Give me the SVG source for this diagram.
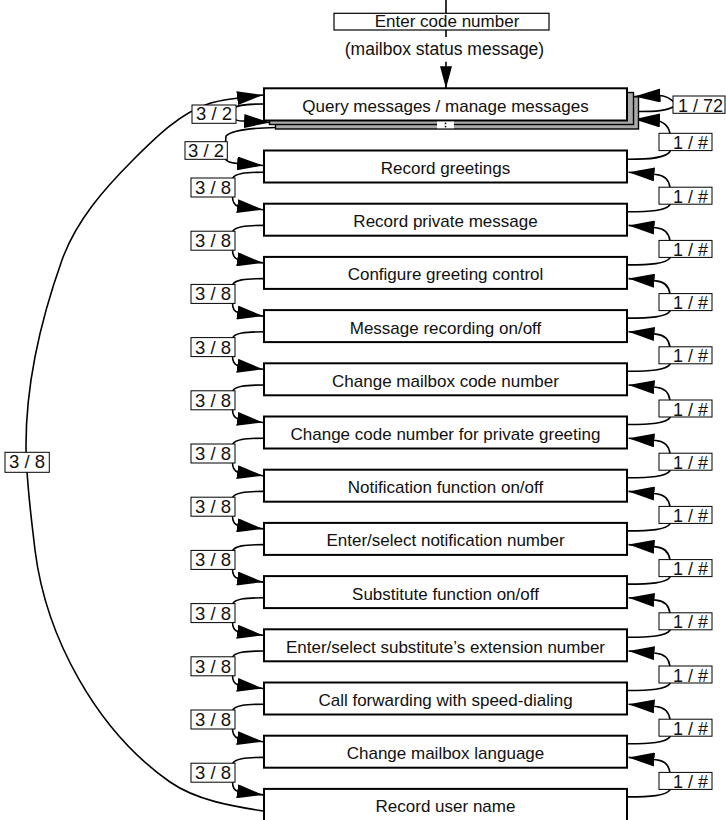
<svg xmlns="http://www.w3.org/2000/svg" width="726" height="820" viewBox="0 0 726 820">
<style>
.box{fill:#fff;stroke:#000;stroke-width:2}
.top{fill:#fff;stroke:#000;stroke-width:1.2}
.shadow{fill:#a9a9a9;stroke:#000;stroke-width:1.4}
.lbl{fill:#fff;stroke:#000;stroke-width:1}
.t{font-family:"Liberation Sans",Arial,Helvetica,sans-serif;font-size:17px;fill:#111;text-anchor:middle}
.tl{font-family:"Liberation Sans",Arial,Helvetica,sans-serif;font-size:18.5px;fill:#111;text-anchor:middle}
.tr{font-family:"Liberation Sans",Arial,Helvetica,sans-serif;font-size:18px;fill:#111;text-anchor:end}
.c{fill:none;stroke:#000;stroke-width:1.6}
.a{marker-end:url(#arr)}
</style>
<defs>
<marker id="arr" viewBox="0 0 26 14" refX="26" refY="7" markerWidth="26" markerHeight="14" markerUnits="userSpaceOnUse" orient="auto"><path d="M0,0 L26,7 L0,14 z" fill="#000"/></marker>
<marker id="arrS" viewBox="0 0 22 12" refX="22" refY="6" markerWidth="22" markerHeight="12" markerUnits="userSpaceOnUse" orient="auto"><path d="M0,0 L22,6 L0,12 z" fill="#000"/></marker>
</defs>

<g id="connectors">
<path class="c" d="M446,0 L446,13.3"/>
<path class="c" d="M446,30 L446,37"/>
<path class="c" d="M446,61.7 L446,88.3" marker-end="url(#arrS)"/>
<!-- big 3/8 arc -->
<path class="c a" d="M263,811 C231,806 196,800 170,782 C97,731 46,638 35,550 C31,515 26,480 26,445 C26,382 41,319 62,260 C76,221 104,189 133,160 C156,137 180,113 210,103.3 C219,100.5 229,99.5 238,98 L263,95"/>
<!-- 3/2 self loop -->
<path class="c a" d="M264,104 C248,104 238,104.5 234,108 L234,118 C235,120 238,121 243,121 L270,122.5"/>
<!-- 3/2 to greetings -->
<path class="c a" d="M275.5,127.5 C250,128 232,130 226,136 L225,150 L225,157 C225,161 229,163 238,163.5 L263,165.5"/>
<!-- 1/72 self loop -->
<path class="c a" d="M639,111.5 C655,111.5 667,111 675,106 L675,103 C670,98 666,95.5 659,95.5 L634.5,96.5"/>
<!-- 1/# greetings to query -->
<path class="c a" d="M628,159.3 C650,159.3 666,158 670,151.5 L670,134 C669,126 663,121 655,120.2 L634,119.3"/>
<!-- left 3/8 loops -->
<path class="c a" d="M264,172.2 C244,172.2 235,173.5 232.5,178.5 L232.5,196.5 C232.5,201 234,205 238,206.2 L263,209.7"/>
<path class="c a" d="M264,225.4 C244,225.4 235,226.7 232.5,231.7 L232.5,249.7 C232.5,254.2 234,258.2 238,259.4 L263,262.9"/>
<path class="c a" d="M264,278.6 C244,278.6 235,279.9 232.5,284.9 L232.5,302.9 C232.5,307.4 234,311.4 238,312.6 L263,316.1"/>
<path class="c a" d="M264,331.8 C244,331.8 235,333.1 232.5,338.1 L232.5,356.1 C232.5,360.6 234,364.6 238,365.8 L263,369.3"/>
<path class="c a" d="M264,385 C244,385 235,386.3 232.5,391.3 L232.5,409.3 C232.5,413.8 234,417.8 238,419 L263,422.5"/>
<path class="c a" d="M264,438.2 C244,438.2 235,439.5 232.5,444.5 L232.5,462.5 C232.5,467 234,471 238,472.2 L263,475.7"/>
<path class="c a" d="M264,491.4 C244,491.4 235,492.7 232.5,497.7 L232.5,515.7 C232.5,520.2 234,524.2 238,525.4 L263,528.9"/>
<path class="c a" d="M264,544.6 C244,544.6 235,545.9 232.5,550.9 L232.5,568.9 C232.5,573.4 234,577.4 238,578.6 L263,582.1"/>
<path class="c a" d="M264,597.8 C244,597.8 235,599.1 232.5,604.1 L232.5,622.1 C232.5,626.6 234,630.6 238,631.8 L263,635.3"/>
<path class="c a" d="M264,651 C244,651 235,652.3 232.5,657.3 L232.5,675.3 C232.5,679.8 234,683.8 238,685 L263,688.5"/>
<path class="c a" d="M264,704.2 C244,704.2 235,705.5 232.5,710.5 L232.5,728.5 C232.5,733 234,737 238,738.2 L263,741.7"/>
<path class="c a" d="M264,757.4 C244,757.4 235,758.7 232.5,763.7 L232.5,781.7 C232.5,786.2 234,790.2 238,791.4 L263,794.9"/>
<!-- right 1/# loops -->
<path class="c a" d="M628,211.7 C650,211.7 666,210.7 670,204.7 L670,187.7 C669,179.7 664,175.2 656,174.5 L628.5,172.2"/>
<path class="c a" d="M628,264.9 C650,264.9 666,263.9 670,257.9 L670,240.9 C669,232.9 664,228.4 656,227.7 L628.5,225.4"/>
<path class="c a" d="M628,318.1 C650,318.1 666,317.1 670,311.1 L670,294.1 C669,286.1 664,281.6 656,280.9 L628.5,278.6"/>
<path class="c a" d="M628,371.3 C650,371.3 666,370.3 670,364.3 L670,347.3 C669,339.3 664,334.8 656,334.1 L628.5,331.8"/>
<path class="c a" d="M628,424.5 C650,424.5 666,423.5 670,417.5 L670,400.5 C669,392.5 664,388 656,387.3 L628.5,385"/>
<path class="c a" d="M628,477.7 C650,477.7 666,476.7 670,470.7 L670,453.7 C669,445.7 664,441.2 656,440.5 L628.5,438.2"/>
<path class="c a" d="M628,530.9 C650,530.9 666,529.9 670,523.9 L670,506.9 C669,498.9 664,494.4 656,493.7 L628.5,491.4"/>
<path class="c a" d="M628,584.1 C650,584.1 666,583.1 670,577.1 L670,560.1 C669,552.1 664,547.6 656,546.9 L628.5,544.6"/>
<path class="c a" d="M628,637.3 C650,637.3 666,636.3 670,630.3 L670,613.3 C669,605.3 664,600.8 656,600.1 L628.5,597.8"/>
<path class="c a" d="M628,690.5 C650,690.5 666,689.5 670,683.5 L670,666.5 C669,658.5 664,654 656,653.3 L628.5,651"/>
<path class="c a" d="M628,743.7 C650,743.7 666,742.7 670,736.7 L670,719.7 C669,711.7 664,707.2 656,706.5 L628.5,704.2"/>
<path class="c a" d="M628,796.9 C650,796.9 666,795.9 670,789.9 L670,772.9 C669,764.9 664,760.4 656,759.7 L628.5,757.4"/>
</g>

<g id="edge-labels">
<rect class="lbl" x="5" y="452.3" width="44.3" height="20"/><text class="tl" x="27" y="467.5">3 / 8</text>
<rect class="lbl" x="192" y="105" width="44" height="18.3"/><text class="tl" x="214" y="120">3 / 2</text>
<rect class="lbl" x="185" y="141.7" width="42.3" height="17.6"/><text class="tl" x="206" y="156.5">3 / 2</text>
<rect class="lbl" x="673" y="96" width="52" height="17.3"/><text class="tr" x="723" y="111.7">1 / 72</text>
<rect class="lbl" x="659" y="133.3" width="53" height="17.3"/><text class="tr" x="708" y="149.3">1 / #</text>
<rect class="lbl" x="191" y="178" width="44" height="19"/><text class="tl" x="213" y="194">3 / 8</text>
<rect class="lbl" x="191" y="231.2" width="44" height="19"/><text class="tl" x="213" y="247.2">3 / 8</text>
<rect class="lbl" x="191" y="284.4" width="44" height="19"/><text class="tl" x="213" y="300.4">3 / 8</text>
<rect class="lbl" x="191" y="337.6" width="44" height="19"/><text class="tl" x="213" y="353.6">3 / 8</text>
<rect class="lbl" x="191" y="390.8" width="44" height="19"/><text class="tl" x="213" y="406.8">3 / 8</text>
<rect class="lbl" x="191" y="444" width="44" height="19"/><text class="tl" x="213" y="460">3 / 8</text>
<rect class="lbl" x="191" y="497.2" width="44" height="19"/><text class="tl" x="213" y="513.2">3 / 8</text>
<rect class="lbl" x="191" y="550.4" width="44" height="19"/><text class="tl" x="213" y="566.4">3 / 8</text>
<rect class="lbl" x="191" y="603.6" width="44" height="19"/><text class="tl" x="213" y="619.6">3 / 8</text>
<rect class="lbl" x="191" y="656.8" width="44" height="19"/><text class="tl" x="213" y="672.8">3 / 8</text>
<rect class="lbl" x="191" y="710" width="44" height="19"/><text class="tl" x="213" y="726">3 / 8</text>
<rect class="lbl" x="191" y="763.2" width="44" height="19"/><text class="tl" x="213" y="779.2">3 / 8</text>
<rect class="lbl" x="659" y="187.2" width="53" height="17"/><text class="tr" x="708" y="202.7">1 / #</text>
<rect class="lbl" x="659" y="240.4" width="53" height="17"/><text class="tr" x="708" y="255.9">1 / #</text>
<rect class="lbl" x="659" y="293.6" width="53" height="17"/><text class="tr" x="708" y="309.1">1 / #</text>
<rect class="lbl" x="659" y="346.8" width="53" height="17"/><text class="tr" x="708" y="362.3">1 / #</text>
<rect class="lbl" x="659" y="400" width="53" height="17"/><text class="tr" x="708" y="415.5">1 / #</text>
<rect class="lbl" x="659" y="453.2" width="53" height="17"/><text class="tr" x="708" y="468.7">1 / #</text>
<rect class="lbl" x="659" y="506.4" width="53" height="17"/><text class="tr" x="708" y="521.9">1 / #</text>
<rect class="lbl" x="659" y="559.6" width="53" height="17"/><text class="tr" x="708" y="575.1">1 / #</text>
<rect class="lbl" x="659" y="612.8" width="53" height="17"/><text class="tr" x="708" y="628.3">1 / #</text>
<rect class="lbl" x="659" y="666" width="53" height="17"/><text class="tr" x="708" y="681.5">1 / #</text>
<rect class="lbl" x="659" y="719.2" width="53" height="17"/><text class="tr" x="708" y="734.7">1 / #</text>
<rect class="lbl" x="659" y="772.4" width="53" height="17"/><text class="tr" x="708" y="787.9">1 / #</text>
</g>

<g id="enter-code">
<rect class="top" x="334" y="13.3" width="215" height="16.7"/>
<text class="t" x="447" y="26.5">Enter code number</text>
</g>
<g id="status-note">
<text class="t" x="444.5" y="55" style="font-size:17.5px">(mailbox status message)</text>
</g>
<g id="query">
<rect class="shadow" x="275.5" y="96.8" width="363" height="32.2"/>
<rect class="shadow" x="269.5" y="92.5" width="364" height="32"/>
<rect class="box" x="264" y="88.3" width="363" height="32.2"/>
<rect x="437" y="121.6" width="17" height="6.7" fill="#fff"/>
<circle cx="445.5" cy="123.4" r="0.9" fill="#000"/>
<circle cx="445.5" cy="126.6" r="0.9" fill="#000"/>
<text class="t" x="445.5" y="111.8">Query messages / manage messages</text>
</g>
<g id="n0"><rect class="box" x="264" y="150.5" width="363" height="32"/><text class="t" x="445.5" y="174">Record greetings</text></g>
<g id="n1"><rect class="box" x="264" y="203.7" width="363" height="32"/><text class="t" x="445.5" y="227.2">Record private message</text></g>
<g id="n2"><rect class="box" x="264" y="256.9" width="363" height="32"/><text class="t" x="445.5" y="280.4">Configure greeting control</text></g>
<g id="n3"><rect class="box" x="264" y="310.1" width="363" height="32"/><text class="t" x="445.5" y="333.6">Message recording on/off</text></g>
<g id="n4"><rect class="box" x="264" y="363.3" width="363" height="32"/><text class="t" x="445.5" y="386.8">Change mailbox code number</text></g>
<g id="n5"><rect class="box" x="264" y="416.5" width="363" height="32"/><text class="t" x="445.5" y="440">Change code number for private greeting</text></g>
<g id="n6"><rect class="box" x="264" y="469.7" width="363" height="32"/><text class="t" x="445.5" y="493.2">Notification function on/off</text></g>
<g id="n7"><rect class="box" x="264" y="522.9" width="363" height="32"/><text class="t" x="445.5" y="546.4">Enter/select notification number</text></g>
<g id="n8"><rect class="box" x="264" y="576.1" width="363" height="32"/><text class="t" x="445.5" y="599.6">Substitute function on/off</text></g>
<g id="n9"><rect class="box" x="264" y="629.3" width="363" height="32"/><text class="t" x="445.5" y="652.8">Enter/select substitute’s extension number</text></g>
<g id="n10"><rect class="box" x="264" y="682.5" width="363" height="32"/><text class="t" x="445.5" y="706">Call forwarding with speed-dialing</text></g>
<g id="n11"><rect class="box" x="264" y="735.7" width="363" height="32"/><text class="t" x="445.5" y="759.2">Change mailbox language</text></g>
<g id="n12"><rect class="box" x="264" y="788.9" width="363" height="34"/><text class="t" x="445.5" y="812.4">Record user name</text></g>
</svg>
